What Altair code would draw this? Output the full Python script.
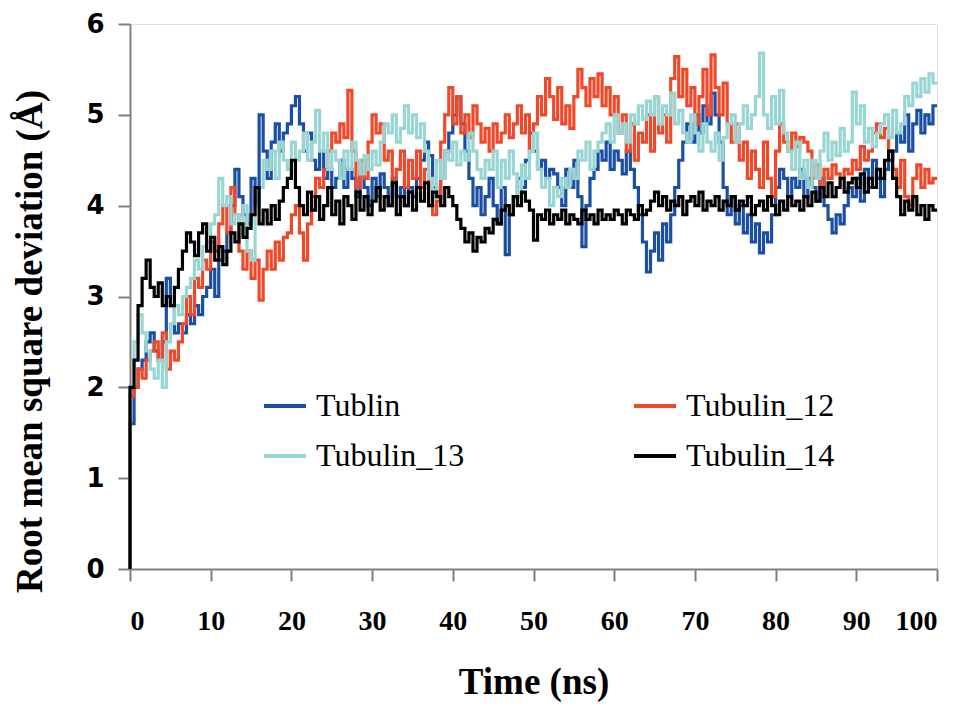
import altair as alt
import pandas as pd

step = 0.5
n_points = 201
time_ns = [round(i * step, 1) for i in range(n_points)]

series_names = ["Tublin", "Tubulin_12", "Tubulin_13", "Tubulin_14"]
series_colors = ["#1b4fa3", "#f0492a", "#98d6d4", "#000000"]

tublin = [
    0, 1.6, 2.0, 2.2, 2.3, 2.5, 2.6, 2.4, 2.3, 2.5,
    3.2, 2.9, 2.6, 2.7, 2.6, 2.8, 2.7, 2.9, 2.8, 3.0,
    3.1, 3.3, 3.0, 3.4, 3.5, 3.7, 4.0, 4.4, 4.1, 3.9,
    3.8, 4.3, 4.0, 5.0, 4.6, 4.3, 4.7, 4.9, 4.6, 4.8,
    4.9, 5.1, 5.2, 4.9, 4.6, 4.8, 4.5, 4.4, 4.6, 4.3,
    4.4, 4.2, 4.3, 4.5, 4.2, 4.4, 4.3, 4.1, 4.35, 4.2,
    4.0, 4.3, 4.1, 4.35, 4.2, 4.0, 4.3, 4.1, 4.2, 4.0,
    4.2, 4.1, 4.3, 4.5, 4.7, 4.55, 4.2, 4.1, 4.3, 4.6,
    4.8, 5.0, 5.2, 4.9, 4.6, 4.3, 4.0, 4.2, 3.9, 4.1,
    4.3, 4.0, 3.8, 4.2, 3.46, 3.9, 4.1, 4.3, 4.2, 4.5,
    4.8, 4.6, 4.4, 4.5, 4.3, 4.4, 4.35, 4.2, 4.0, 4.4,
    4.2, 4.5, 4.1, 3.55, 4.0, 4.3, 4.4, 4.6, 4.5, 4.7,
    4.4, 4.6, 4.5, 4.35, 4.6, 4.4, 4.2, 3.9, 3.6, 3.27,
    3.5, 3.7, 3.4, 3.8, 3.6, 3.9, 4.2, 4.5, 4.7, 4.9,
    4.7, 5.0, 4.8, 5.1, 4.9, 5.24, 5.0, 4.7, 4.2, 3.9,
    4.1, 3.8, 4.0, 3.7, 3.9, 3.6, 3.8, 3.48, 3.7, 3.6,
    3.9, 4.2, 4.4, 4.3, 4.1, 4.3, 4.2, 4.4, 4.1, 4.3,
    4.2, 4.05, 4.3, 4.0, 3.85, 3.7, 3.9, 3.8, 4.0, 4.2,
    4.1, 4.3, 4.05, 4.4, 4.2, 4.5, 4.3, 4.1, 4.4, 4.5,
    4.6, 4.8, 4.7, 5.0, 4.6, 4.9, 5.05, 4.8, 5.0, 4.9,
    5.1,
]

tubulin_12 = [
    0, 1.9, 2.0, 2.2, 2.1, 2.3, 2.4, 2.5, 2.3, 2.6,
    2.2, 2.4, 2.3, 2.5, 2.7, 3.0, 2.8, 3.2, 3.1, 3.4,
    3.3, 3.6, 3.5, 3.8, 4.0, 3.7, 4.2, 3.9, 3.5, 3.3,
    3.5, 3.2, 3.4, 2.96, 3.3, 3.5, 3.3, 3.6, 3.4, 3.65,
    3.7, 3.9, 4.0, 3.7, 3.4, 3.8, 4.1, 4.3, 4.2, 4.4,
    4.6, 4.8, 4.7, 4.9, 4.75, 5.27, 4.6, 4.2, 4.5, 4.3,
    4.7, 5.0, 4.8, 4.9, 4.5, 4.6, 4.3, 4.4, 4.6, 4.2,
    4.5, 4.3, 4.6, 4.2, 4.4, 4.0, 3.9, 4.05, 4.7, 5.0,
    5.3, 4.9, 5.2, 4.8, 5.0, 4.75, 5.1, 4.9, 4.7, 4.85,
    4.6, 4.9, 4.7, 4.8, 5.0, 4.75, 4.9, 5.1, 4.8, 5.0,
    4.6, 4.9, 5.2, 5.0, 5.4, 5.2, 4.95, 5.3, 4.9, 5.1,
    4.85, 5.2, 5.5, 5.3, 5.1, 5.4, 5.2, 5.45, 5.1, 5.3,
    5.0, 5.2, 4.8, 5.0, 4.6, 4.9, 4.5, 4.8, 4.7, 5.0,
    4.6, 5.2, 4.8, 5.0, 4.7, 5.4, 5.64, 5.2, 5.5, 5.1,
    5.3, 4.9, 5.2, 5.5, 5.0, 5.66, 5.3, 5.0, 5.35, 4.9,
    4.7, 4.9, 4.5, 4.7, 4.3, 4.6, 4.4, 4.2, 4.7, 4.3,
    4.1, 4.6, 4.9, 4.7, 4.6, 4.8, 4.65, 4.75, 4.7, 4.6,
    4.3, 4.45, 4.2, 4.4, 4.3, 4.45, 4.35, 4.3, 4.4, 4.35,
    4.5, 4.4, 4.65, 4.5, 4.6, 4.8, 4.9, 4.75, 4.85, 4.6,
    4.4, 4.2, 4.5, 4.1, 4.0, 4.3, 4.45, 4.2, 4.4, 4.25,
    4.3,
]

tubulin_13 = [
    0, 2.0, 2.5, 2.8, 2.6, 2.4, 2.2, 2.1, 2.3, 2.0,
    2.5, 2.7, 2.9, 2.8, 3.0, 3.1, 3.2, 3.4, 3.3, 3.55,
    3.6, 3.8, 3.9, 4.3, 4.0, 4.1, 3.8, 3.9, 3.7, 4.0,
    3.5, 3.4, 4.0, 4.2, 4.5, 4.4, 4.6, 4.3, 4.7, 4.5,
    4.4, 4.7, 4.5, 4.6, 4.8, 4.5, 4.7, 5.05, 4.6, 4.8,
    4.4, 4.6, 4.5, 4.3, 4.6, 4.4, 4.7, 4.5, 4.35, 4.55,
    4.4, 4.6, 4.45, 4.7, 4.9, 4.8, 5.0, 4.7, 4.85, 5.1,
    4.8, 5.0, 4.75, 4.9, 4.6, 4.3, 4.1, 4.5, 4.3, 4.6,
    4.5, 4.7, 4.45, 4.6, 4.5, 4.8, 4.6, 4.4, 4.3, 4.5,
    4.4, 4.6, 4.2, 4.5, 4.3, 4.6, 4.35, 4.1, 4.45, 4.3,
    4.6, 4.8, 4.4, 4.2, 4.3, 4.0, 4.2, 4.1, 4.3, 4.2,
    4.4, 4.3, 4.6, 4.5, 4.7, 4.4, 4.6, 4.7, 4.8, 4.9,
    4.7, 5.0, 4.8, 4.9, 4.7, 5.0, 4.9, 5.1, 4.95, 5.15,
    5.0, 5.2, 4.9, 5.1, 5.0, 5.24, 4.9, 5.05, 4.8, 4.7,
    5.0, 4.8, 4.6, 4.9, 4.7, 4.6, 4.8, 4.5, 4.75, 4.9,
    5.0, 4.7, 4.9, 5.1, 4.85, 5.0, 5.2, 5.68, 5.0, 4.85,
    5.2, 4.9, 5.27, 4.8, 4.6, 4.4, 4.7, 4.3, 4.5, 4.2,
    4.5, 4.3, 4.6, 4.8, 4.5, 4.7, 4.55, 4.85, 4.6, 4.7,
    5.25, 4.9, 5.1, 4.7, 4.85, 4.65, 4.8, 4.9, 5.0, 4.75,
    5.05, 4.8, 4.9, 5.2, 5.1, 5.35, 5.2, 5.4, 5.25, 5.45,
    5.35,
]

tubulin_14 = [
    0, 2.0, 2.3, 2.9, 3.2, 3.4, 3.1, 3.0, 3.15, 2.9,
    3.0, 2.9, 3.1, 3.3, 3.5, 3.7, 3.6, 3.45, 3.7, 3.8,
    3.5, 3.65, 3.4, 3.55, 3.35, 3.5, 3.7, 3.6, 3.8, 3.65,
    3.75, 3.9, 4.2, 3.8, 3.95, 3.8, 4.0, 3.85, 4.05, 4.2,
    4.3, 4.5, 4.2, 4.0, 3.9, 4.15, 3.95, 4.1, 3.85, 4.0,
    4.2, 3.9, 4.05, 3.8, 4.1, 4.0, 3.85, 4.15, 3.95, 4.1,
    3.9, 4.05, 4.2, 3.95, 4.1, 4.0, 4.25, 3.9, 4.1, 4.0,
    4.15, 3.95, 4.2, 4.05, 4.25, 4.0, 4.15, 4.1, 4.0, 4.2,
    4.1, 4.0, 3.85, 3.75, 3.6, 3.7, 3.5, 3.65, 3.6, 3.75,
    3.7, 3.85, 3.8, 3.95, 4.0, 3.9, 4.1, 4.0, 4.15, 4.05,
    3.95, 3.62, 3.9, 3.85, 3.95, 3.8, 3.9, 3.85, 3.95, 3.8,
    3.9, 3.85, 3.8, 3.95, 3.85, 3.9, 3.8, 3.95, 3.85, 3.9,
    3.85, 3.95, 3.9, 3.8, 3.95, 3.9, 3.85, 4.0, 3.9, 3.95,
    4.05, 4.15, 4.0, 4.1, 3.95, 4.05, 4.0, 4.1, 3.9, 4.05,
    4.1, 4.0, 4.15, 3.95, 4.05, 4.0, 4.1, 3.95, 4.05, 4.0,
    4.1, 3.95, 4.05, 4.0, 4.1, 3.9, 4.0, 4.05, 3.95, 4.1,
    4.0, 3.9, 4.05, 3.95, 4.1, 4.0, 4.05, 3.95, 4.1, 4.0,
    4.15, 4.05, 4.2, 4.1, 4.25, 4.1, 4.2, 4.3, 4.15, 4.25,
    4.3, 4.2, 4.35, 4.15, 4.3, 4.2, 4.4, 4.3, 4.5, 4.6,
    4.3, 4.1, 3.9, 4.05, 3.95, 4.1, 3.9, 4.0, 3.85, 4.0,
    3.95,
]

x_ticks = [0, 10, 20, 30, 40, 50, 60, 70, 80, 90, 100]
y_ticks = [0, 1, 2, 3, 4, 5, 6]

frames = []
for name, vals in zip(series_names, [tublin, tubulin_12, tubulin_13, tubulin_14]):
    frames.append(pd.DataFrame({"time": time_ns, "rmsd": vals, "series": name}))
df = pd.concat(frames, ignore_index=True)

chart = (
    alt.Chart(df)
    .mark_line(strokeWidth=3.2, interpolate="step-before")
    .encode(
        x=alt.X(
            "time:Q",
            scale=alt.Scale(domain=[0, 100], nice=False),
            axis=alt.Axis(
                title="Time (ns)",
                values=x_ticks,
                grid=False,
                domainColor="#808080",
                domainWidth=2,
                tickColor="#808080",
                tickWidth=2,
                tickSize=12,
                labelFont="Liberation Serif",
                labelFontWeight="bold",
                labelFontSize=28,
                labelColor="#000000",
                labelPadding=26,
                titleFont="Liberation Serif",
                titleFontWeight="bold",
                titleFontSize=37,
                titleColor="#000000",
                titlePadding=29,
            ),
        ),
        y=alt.Y(
            "rmsd:Q",
            scale=alt.Scale(domain=[0, 6], nice=False),
            axis=alt.Axis(
                title="Root mean square deviation (Å)",
                values=y_ticks,
                grid=False,
                domainColor="#808080",
                domainWidth=2,
                tickColor="#808080",
                tickWidth=2,
                tickSize=12,
                labelFont="DejaVu Sans",
                labelFontWeight="bold",
                labelFontSize=26,
                labelColor="#000000",
                labelPadding=14,
                titleFont="Liberation Serif",
                titleFontWeight="bold",
                titleFontSize=37,
                titleColor="#000000",
                titlePadding=36,
                titleY=317,
            ),
        ),
        color=alt.Color(
            "series:N",
            scale=alt.Scale(domain=series_names, range=series_colors),
            legend=alt.Legend(
                title=None,
                orient="none",
                direction="horizontal",
                legendX=132,
                legendY=359,
                columns=2,
                columnPadding=161,
                rowPadding=11,
                symbolType="stroke",
                symbolSize=1764,
                symbolStrokeWidth=4,
                labelFont="Liberation Serif",
                labelFontSize=32,
                labelColor="#000000",
                labelOffset=8,
                labelLimit=400,
            ),
        ),
    )
    .properties(
        width=807,
        height=545,
        padding={"left": 122, "top": 16, "right": 20, "bottom": 135},
        autosize=alt.AutoSizeParams(type="none"),
    )
    .configure_view(stroke="#3551a3", strokeWidth=2)
    .configure(background="#ffffff")
)

chart.save("out.html", embed_options={"renderer": "svg", "actions": False})
